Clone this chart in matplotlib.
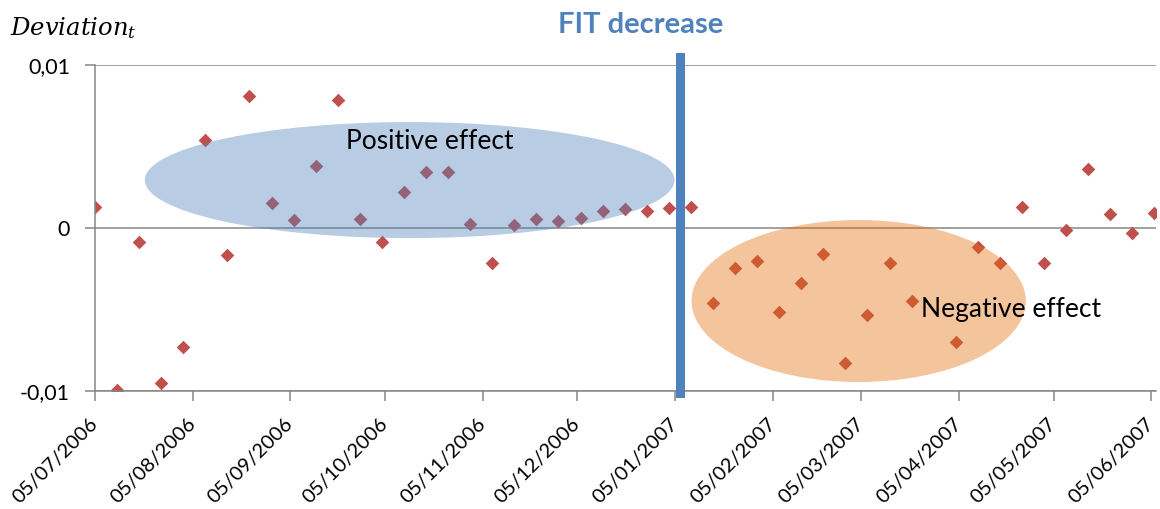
import matplotlib
matplotlib.use("Agg")
import matplotlib.pyplot as plt
import matplotlib.dates as mdates
from matplotlib.patches import Ellipse
import pandas as pd

# ---- data ----
dates = ["2006-07-05", "2006-07-12", "2006-07-19", "2006-07-26", "2006-08-02", "2006-08-09",
         "2006-08-16", "2006-08-23", "2006-08-30", "2006-09-06", "2006-09-13", "2006-09-20",
         "2006-09-27", "2006-10-04", "2006-10-11", "2006-10-18", "2006-10-25", "2006-11-01",
         "2006-11-08", "2006-11-15", "2006-11-22", "2006-11-29", "2006-12-06", "2006-12-13",
         "2006-12-20", "2006-12-27", "2007-01-03", "2007-01-10", "2007-01-17", "2007-01-24",
         "2007-01-31", "2007-02-07", "2007-02-14", "2007-02-21", "2007-02-28", "2007-03-07",
         "2007-03-14", "2007-03-21", "2007-04-04", "2007-04-11", "2007-04-18", "2007-04-25",
         "2007-05-02", "2007-05-09", "2007-05-16", "2007-05-23", "2007-05-30", "2007-06-06"]
deviation = [0.00129, -0.00994, -0.00086, -0.00951, -0.00730, 0.00540,
             -0.00166, 0.00810, 0.00153, 0.00049, 0.00380, 0.00785,
             0.00055, -0.00086, 0.00220, 0.00344, 0.00344, 0.00025,
             -0.00215, 0.00018, 0.00055, 0.00043, 0.00061, 0.00104,
             0.00117, 0.00104, 0.00123, 0.00129, -0.00460, -0.00245,
             -0.00200, -0.00515, -0.00337, -0.00160, -0.00830, -0.00534,
             -0.00215, -0.00448, -0.00700, -0.00117, -0.00215, 0.00129,
             -0.00215, -0.00012, 0.00360, 0.00086, -0.00030, 0.00092]
y_ticks = [-0.01, 0, 0.01]
y_tick_labels = ["-0,01", "0", "0,01"]
event_date = "2007-01-06 10:00"

x = pd.to_datetime(dates)

plt.rcParams["mathtext.fontset"] = "dejavuserif"

W, H = 1160, 509
fig = plt.figure(figsize=(W / 100, H / 100), dpi=100)
ax = fig.add_axes([95 / W, 1 - 391 / H, (1156 - 95) / W, (391 - 65) / H])

grey = "#868686"
red = "#C0504D"
blue = "#4F81BD"
orange = "#E46C0A"
font = "Lato"

ax.scatter(x, deviation, marker="D", s=48, color=red, zorder=2, linewidths=0)

x0 = pd.Timestamp("2006-07-05")
ax.set_xlim(x0, pd.Timestamp("2007-06-06 12:00"))
ax.set_ylim(-0.01, 0.01)

ax.set_yticks(y_ticks)
ax.set_yticklabels(y_tick_labels, fontfamily=font, fontsize=15.5)
ax.yaxis.grid(True, color=grey, linewidth=1.1, zorder=1)
ax.set_axisbelow(True)

ax.xaxis.set_major_locator(mdates.MonthLocator(bymonthday=5))
ax.xaxis.set_major_formatter(mdates.DateFormatter("%d/%m/%Y"))

for s in ["top", "right"]:
    ax.spines[s].set_visible(False)
for s in ["left", "bottom"]:
    ax.spines[s].set_color(grey)
    ax.spines[s].set_linewidth(1.1)
ax.tick_params(axis="both", color=grey, width=1.1, length=7, direction="out")
ax.tick_params(axis="y", pad=11)
ax.tick_params(axis="x", pad=14.5, labelsize=14.5)
plt.setp(ax.get_xticklabels(), rotation=45, ha="right", va="center",
         rotation_mode="anchor", fontfamily=font)

# annotation ellipses
d2n = mdates.date2num
blue_el = Ellipse((d2n(x0 + pd.Timedelta(days=99.8)), 0.00294), width=168, height=0.00712,
                  facecolor=blue, alpha=0.4, edgecolor="none", zorder=3)
orange_el = Ellipse((d2n(x0 + pd.Timedelta(days=242.2)), -0.00448), width=106, height=0.00994,
                    facecolor=orange, alpha=0.4, edgecolor="none", zorder=3)
ax.add_patch(blue_el)
ax.add_patch(orange_el)

ax.text(x0 + pd.Timedelta(days=79.6), 0.00485, "Positive effect", fontfamily=font,
        fontsize=19, ha="left", va="baseline", zorder=4)
ax.text(x0 + pd.Timedelta(days=262.1), -0.00546, "Negative effect", fontfamily=font,
        fontsize=19, ha="left", va="baseline", zorder=4)

ax.axvline(pd.Timestamp(event_date), ymin=-0.006, ymax=1.025, color=blue,
           linewidth=6.5, clip_on=False, zorder=5)

fig.text(641 / W, 1 - 33 / H, "FIT decrease", color=blue, fontfamily=font,
         fontweight="bold", fontsize=21, ha="center", va="baseline")

fig.text(10 / W, 1 - 35 / H, r"$Deviation_t$", fontsize=17.5, ha="left", va="baseline")

fig.savefig("out.png", dpi=100)
